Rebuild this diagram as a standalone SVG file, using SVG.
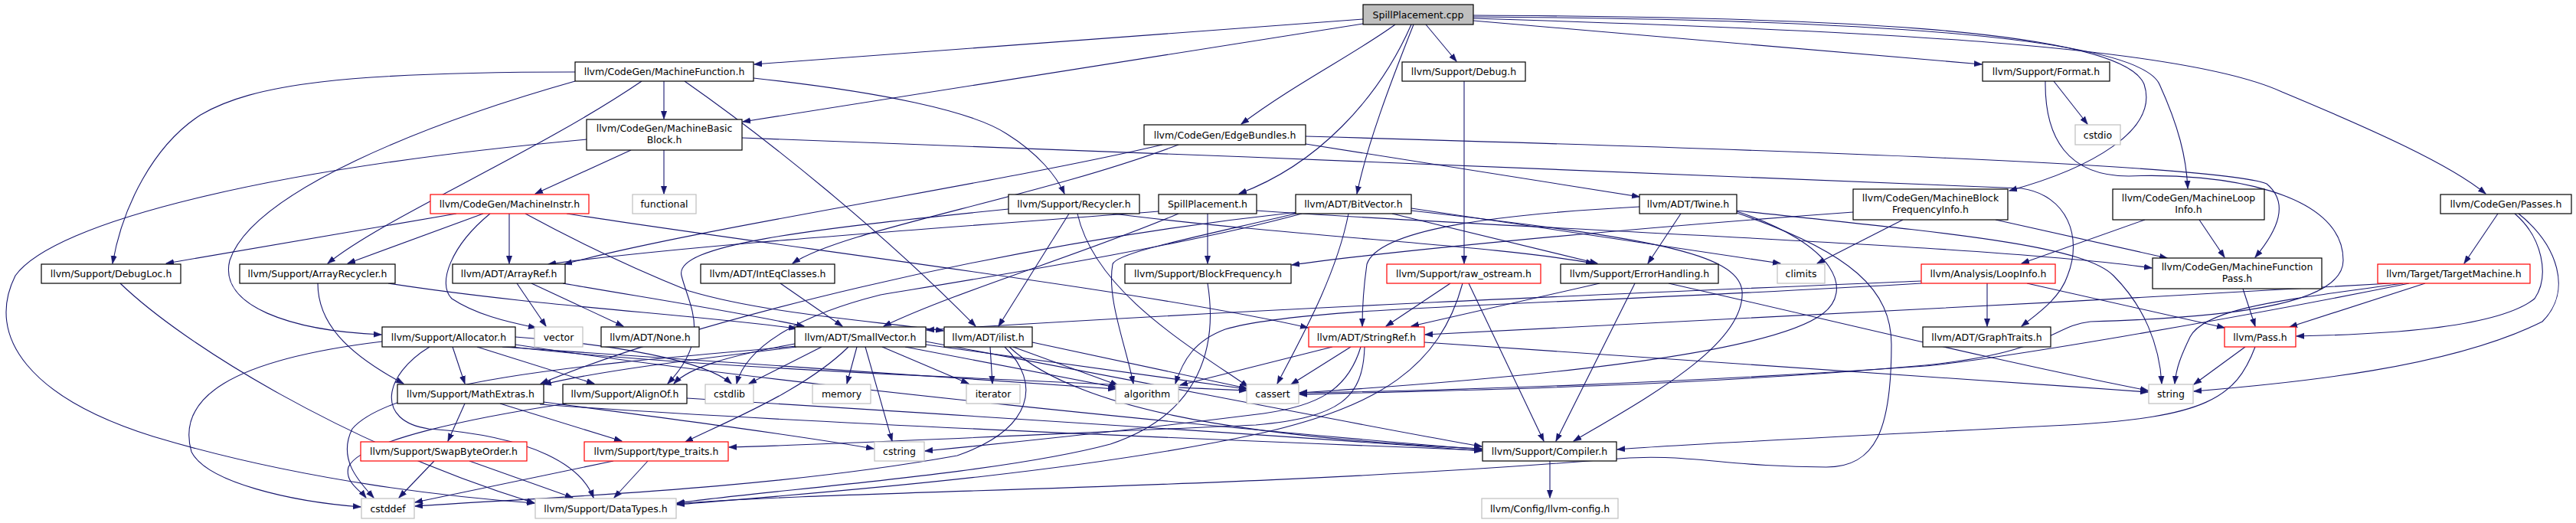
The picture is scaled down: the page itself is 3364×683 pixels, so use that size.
<svg xmlns="http://www.w3.org/2000/svg" width="3364" height="683" viewBox="0 0 3364 683">
<style>
rect{fill:#fff;stroke:#000;stroke-width:1.2}
.r rect{stroke:#ff0000}
.g rect{stroke:#bfbfbf}
.root rect{fill:#bfbfbf}
text{font-family:"DejaVu Sans","Liberation Sans",sans-serif;font-size:12.5px;fill:#000;text-anchor:middle}
#edges path{fill:none;stroke:#191970;stroke-width:1.1;marker-end:url(#a)}
</style>
<defs>
<marker id="a" markerWidth="11" markerHeight="9" refX="10" refY="4.5" orient="auto" markerUnits="userSpaceOnUse"><path d="M0,0.8 L10.5,4.5 L0,8.2 z" fill="#191970" stroke="#191970" stroke-width="0.5"/></marker>
</defs>
<rect x="0" y="0" width="3364" height="683" style="fill:#fff;stroke:none"/>
<g id="edges">
<path d="M1780,25 L985,84"/>
<path d="M1780,31 L970,159"/>
<path d="M1822,32 C1770,70 1690,110 1621,162"/>
<path d="M1843,32 C1800,130 1720,215 1618,253"/>
<path d="M1846,32 C1815,110 1785,190 1772,253"/>
<path d="M1862,32 L1902,80"/>
<path d="M1924,27 L2588,84"/>
<path d="M1924,20 C2350,22 2770,35 2800,110 C2820,170 2730,220 2624,249"/>
<path d="M1924,22 C2400,25 2790,45 2820,110 C2845,165 2855,205 2857,246"/>
<path d="M1924,24 C2450,40 2850,60 2980,120 C3100,170 3200,215 3246,253"/>
<path d="M867,106 L867,155"/>
<path d="M751,94 C450,94 330,110 262,150 C200,190 160,270 147,344"/>
<path d="M751,106 C560,160 330,250 300,340 C285,400 380,432 498,437"/>
<path d="M838,106 C700,200 500,285 428,344"/>
<path d="M984,102 C1150,120 1270,145 1315,175 C1355,200 1380,230 1390,253"/>
<path d="M894,106 C1000,180 1150,300 1274,426"/>
<path d="M824,196 L699,253"/>
<path d="M867,196 L867,253"/>
<path d="M766,182 C350,220 70,290 20,360 C-20,440 40,520 200,570 C400,630 600,650 698,657"/>
<path d="M969,180 C1500,200 2300,230 2640,246 C2700,255 2720,310 2700,360 C2690,390 2660,410 2640,426"/>
<path d="M1518,189 C1300,240 900,300 737,345"/>
<path d="M1539,189 C1350,260 1100,300 1035,344"/>
<path d="M1705,188 L2141,257"/>
<path d="M1705,178 C2300,195 2900,215 2960,240 C2990,265 2975,300 2945,336"/>
<path d="M1577,279 L1577,344"/>
<path d="M1539,279 C1420,330 1250,380 1154,426"/>
<path d="M1513,276 C1200,300 900,320 716,345"/>
<path d="M1641,275 C2000,300 2600,320 2810,350"/>
<path d="M1396,279 L1304,426"/>
<path d="M1407,279 C1430,380 1550,450 1630,505"/>
<path d="M1317,273 C1050,300 880,320 890,360 C900,400 930,440 872,501"/>
<path d="M1453,279 C1700,310 1950,320 2081,344"/>
<path d="M1692,279 C1560,310 1458,330 1453,345 C1445,390 1470,450 1480,501"/>
<path d="M1700,279 C1550,320 1300,360 1150,385 C1050,410 975,450 962,501"/>
<path d="M1818,279 L2086,344"/>
<path d="M1843,272 L2325,344"/>
<path d="M1843,275 C2150,310 2270,330 2275,380 C2280,450 2150,520 2055,576"/>
<path d="M1761,279 C1745,360 1700,440 1668,501"/>
<path d="M1695,277 C1300,320 900,420 706,501"/>
<path d="M2141,270 C1950,280 1800,300 1785,345 C1780,380 1779,400 1779,426"/>
<path d="M2195,279 L2152,344"/>
<path d="M2268,275 C2550,305 2720,320 2760,360 C2800,400 2820,450 2823,501"/>
<path d="M2268,278 C2420,330 2470,380 2470,450 C2470,560 2450,610 2385,610 C2250,610 2200,590 2100,600 C1600,640 1100,640 884,658"/>
<path d="M2268,276 C2400,320 2420,380 2380,410 C2300,470 1900,500 1697,513"/>
<path d="M1912,106 L1912,344"/>
<path d="M2682,106 L2726,162"/>
<path d="M2671,106 C2670,180 2700,230 2780,230 C2900,225 3060,250 3060,340 C3060,400 2900,415 2730,420 C2680,425 2680,460 2514,477 C2200,505 1900,510 1697,515"/>
<path d="M2420,277 C2100,300 1800,330 1687,346"/>
<path d="M2485,287 L2373,344"/>
<path d="M2606,287 L2830,337"/>
<path d="M2801,287 L2640,344"/>
<path d="M2872,287 L2905,336"/>
<path d="M3262,279 L3218,344"/>
<path d="M3284,279 C3320,310 3330,360 3310,390 C3260,430 3100,437 2999,439"/>
<path d="M3289,279 C3340,320 3360,380 3320,420 C3200,480 3000,500 2865,511"/>
<path d="M596,279 L217,344"/>
<path d="M631,279 L454,344"/>
<path d="M640,279 C590,320 570,370 590,390 C620,410 660,420 700,428"/>
<path d="M665,279 L665,344"/>
<path d="M686,279 C780,330 850,360 900,380 C1000,410 1150,420 1232,432"/>
<path d="M740,279 C1000,320 1500,380 1708,428"/>
<path d="M157,370 C240,450 450,580 698,657"/>
<path d="M415,370 C415,420 450,460 527,501"/>
<path d="M507,370 C700,400 900,410 1040,429"/>
<path d="M675,370 L713,426"/>
<path d="M694,370 L814,426"/>
<path d="M735,370 C850,390 950,405 1050,426"/>
<path d="M1019,370 L1100,426"/>
<path d="M1577,370 C1590,450 1570,540 1450,580 C1300,620 1000,640 884,657"/>
<path d="M1894,370 L1810,426"/>
<path d="M1918,370 L2016,576"/>
<path d="M1910,370 C1880,480 1800,530 1650,565 C1400,620 1050,645 884,659"/>
<path d="M2089,370 L1843,426"/>
<path d="M2135,370 L2032,576"/>
<path d="M2179,370 C2400,420 2600,470 2805,510"/>
<path d="M2595,370 L2595,426"/>
<path d="M2647,370 L2905,428"/>
<path d="M2509,367 C2200,380 1700,400 1210,431"/>
<path d="M2509,370 C2000,400 1700,400 1600,430 C1560,445 1545,470 1535,501"/>
<path d="M2929,377 L2945,426"/>
<path d="M3167,370 L2990,427"/>
<path d="M3122,370 C2700,395 2200,420 1861,437"/>
<path d="M3146,370 C2900,420 2600,470 2514,478 C2200,500 1900,510 1697,513"/>
<path d="M3138,370 C3000,390 2880,400 2860,440 C2848,465 2842,480 2840,501"/>
<path d="M499,446 C300,470 230,520 250,590 C270,630 380,655 471,662"/>
<path d="M561,453 C500,490 490,550 560,560 C700,570 760,610 775,650"/>
<path d="M591,453 L607,501"/>
<path d="M623,453 L776,501"/>
<path d="M656,453 C900,470 1200,490 1457,508"/>
<path d="M668,453 C900,480 1300,495 1628,510"/>
<path d="M673,440 C800,450 920,470 955,501"/>
<path d="M673,450 C1000,500 1600,560 1935,587"/>
<path d="M1038,449 C950,465 900,480 880,501"/>
<path d="M1040,453 C900,470 780,485 710,502"/>
<path d="M1073,453 L978,501"/>
<path d="M1119,453 L1106,501"/>
<path d="M1152,453 L1265,501"/>
<path d="M1182,453 L1458,506"/>
<path d="M1209,450 L1628,508"/>
<path d="M1130,453 L1165,576"/>
<path d="M1108,453 C1050,510 950,550 895,577"/>
<path d="M1040,452 C850,470 520,490 460,560 C440,600 470,630 488,650"/>
<path d="M1209,446 C1500,500 1800,560 1935,583"/>
<path d="M1293,453 L1296,501"/>
<path d="M1323,453 L1460,503"/>
<path d="M1348,447 L1628,507"/>
<path d="M1312,453 C1360,500 1350,560 1250,595 C1000,640 700,650 542,661"/>
<path d="M1318,453 C1400,530 1600,570 1935,586"/>
<path d="M1740,453 L1541,503"/>
<path d="M1764,453 L1686,502"/>
<path d="M1777,453 C1760,510 1720,530 1650,540 C1450,565 1300,580 1208,589"/>
<path d="M1782,453 C1780,520 1750,545 1640,555 C1300,570 1100,580 952,584"/>
<path d="M1860,447 C2200,470 2500,490 2805,512"/>
<path d="M2932,453 L2865,502"/>
<path d="M2945,453 C2920,520 2880,545 2700,555 C2400,570 2200,580 2112,587"/>
<path d="M607,527 L585,576"/>
<path d="M653,527 L812,576"/>
<path d="M705,528 C1000,550 1600,575 1935,588"/>
<path d="M710,525 C900,550 1050,570 1141,586"/>
<path d="M897,520 C1300,545 1700,570 1935,589"/>
<path d="M740,527 C620,545 470,575 455,610 C450,630 470,640 478,650"/>
<path d="M567,602 L521,650"/>
<path d="M613,602 L748,650"/>
<path d="M801,602 L542,656"/>
<path d="M846,602 L802,650"/>
<path d="M2024,602 L2024,650"/>
</g>
<g id="n_root" class="root"><rect x="1780" y="6" width="144" height="26"/><text x="1852" y="24">SpillPlacement.cpp</text></g>
<g id="n_mf"><rect x="751" y="81" width="233" height="25"/><text x="867.5" y="98">llvm/CodeGen/MachineFunction.h</text></g>
<g id="n_debug"><rect x="1831" y="81" width="161" height="25"/><text x="1911.5" y="98">llvm/Support/Debug.h</text></g>
<g id="n_format"><rect x="2589" y="81" width="166" height="25"/><text x="2672" y="98">llvm/Support/Format.h</text></g>
<g id="n_mbb"><rect x="766" y="156" width="203" height="40"/><text x="867.5" y="172">llvm/CodeGen/MachineBasic</text><text x="867.5" y="187">Block.h</text></g>
<g id="n_eb"><rect x="1494" y="163" width="211" height="26"/><text x="1599.5" y="181">llvm/CodeGen/EdgeBundles.h</text></g>
<g id="n_cstdio" class="g"><rect x="2710" y="163" width="59" height="26"/><text x="2739.5" y="181">cstdio</text></g>
<g id="n_mi" class="r"><rect x="562" y="254" width="207" height="25"/><text x="665.5" y="271">llvm/CodeGen/MachineInstr.h</text></g>
<g id="n_functional" class="g"><rect x="826" y="254" width="83" height="25"/><text x="867.5" y="271">functional</text></g>
<g id="n_recycler"><rect x="1317" y="254" width="171" height="25"/><text x="1402.5" y="271">llvm/Support/Recycler.h</text></g>
<g id="n_sph"><rect x="1513" y="254" width="128" height="25"/><text x="1577" y="271">SpillPlacement.h</text></g>
<g id="n_bv"><rect x="1692" y="254" width="151" height="25"/><text x="1767.5" y="271">llvm/ADT/BitVector.h</text></g>
<g id="n_twine"><rect x="2141" y="254" width="127" height="25"/><text x="2204.5" y="271">llvm/ADT/Twine.h</text></g>
<g id="n_mbfi"><rect x="2420" y="247" width="202" height="40"/><text x="2521" y="263">llvm/CodeGen/MachineBlock</text><text x="2521" y="278">FrequencyInfo.h</text></g>
<g id="n_mli"><rect x="2759" y="247" width="198" height="40"/><text x="2858" y="263">llvm/CodeGen/MachineLoop</text><text x="2858" y="278">Info.h</text></g>
<g id="n_passes"><rect x="3187" y="254" width="171" height="25"/><text x="3272.5" y="271">llvm/CodeGen/Passes.h</text></g>
<g id="n_debugloc"><rect x="54" y="345" width="182" height="25"/><text x="145" y="362">llvm/Support/DebugLoc.h</text></g>
<g id="n_arrayrecycler"><rect x="313" y="345" width="203" height="25"/><text x="414.5" y="362">llvm/Support/ArrayRecycler.h</text></g>
<g id="n_arrayref"><rect x="591" y="345" width="147" height="25"/><text x="664.5" y="362">llvm/ADT/ArrayRef.h</text></g>
<g id="n_inteq"><rect x="915" y="345" width="175" height="25"/><text x="1002.5" y="362">llvm/ADT/IntEqClasses.h</text></g>
<g id="n_blockfreq"><rect x="1469" y="345" width="217" height="25"/><text x="1577.5" y="362">llvm/Support/BlockFrequency.h</text></g>
<g id="n_raw" class="r"><rect x="1811" y="345" width="201" height="25"/><text x="1911.5" y="362">llvm/Support/raw_ostream.h</text></g>
<g id="n_eh"><rect x="2038" y="345" width="206" height="25"/><text x="2141" y="362">llvm/Support/ErrorHandling.h</text></g>
<g id="n_climits" class="g"><rect x="2321" y="345" width="62" height="25"/><text x="2352" y="362">climits</text></g>
<g id="n_loopinfo" class="r"><rect x="2509" y="345" width="175" height="25"/><text x="2596.5" y="362">llvm/Analysis/LoopInfo.h</text></g>
<g id="n_mfp"><rect x="2811" y="337" width="221" height="40"/><text x="2921.5" y="353">llvm/CodeGen/MachineFunction</text><text x="2921.5" y="368">Pass.h</text></g>
<g id="n_tm" class="r"><rect x="3105" y="345" width="199" height="25"/><text x="3204.5" y="362">llvm/Target/TargetMachine.h</text></g>
<g id="n_alloc"><rect x="499" y="427" width="174" height="26"/><text x="586" y="445">llvm/Support/Allocator.h</text></g>
<g id="n_vector" class="g"><rect x="698" y="427" width="63" height="26"/><text x="729.5" y="445">vector</text></g>
<g id="n_none"><rect x="785" y="427" width="128" height="26"/><text x="849" y="445">llvm/ADT/None.h</text></g>
<g id="n_sv"><rect x="1038" y="427" width="171" height="26"/><text x="1123.5" y="445">llvm/ADT/SmallVector.h</text></g>
<g id="n_ilist"><rect x="1233" y="427" width="115" height="26"/><text x="1290.5" y="445">llvm/ADT/ilist.h</text></g>
<g id="n_stringref" class="r"><rect x="1709" y="427" width="151" height="26"/><text x="1784.5" y="445">llvm/ADT/StringRef.h</text></g>
<g id="n_graphtraits"><rect x="2511" y="427" width="167" height="26"/><text x="2594.5" y="445">llvm/ADT/GraphTraits.h</text></g>
<g id="n_pass" class="r"><rect x="2905" y="427" width="93" height="26"/><text x="2951.5" y="445">llvm/Pass.h</text></g>
<g id="n_mathextras"><rect x="519" y="502" width="191" height="25"/><text x="614.5" y="519">llvm/Support/MathExtras.h</text></g>
<g id="n_alignof"><rect x="735" y="502" width="162" height="25"/><text x="816" y="519">llvm/Support/AlignOf.h</text></g>
<g id="n_cstdlib" class="g"><rect x="921" y="502" width="63" height="25"/><text x="952.5" y="519">cstdlib</text></g>
<g id="n_memory" class="g"><rect x="1061" y="502" width="76" height="25"/><text x="1099" y="519">memory</text></g>
<g id="n_iterator" class="g"><rect x="1262" y="502" width="70" height="25"/><text x="1297" y="519">iterator</text></g>
<g id="n_algorithm" class="g"><rect x="1457" y="502" width="82" height="25"/><text x="1498" y="519">algorithm</text></g>
<g id="n_cassert" class="g"><rect x="1628" y="502" width="68" height="25"/><text x="1662" y="519">cassert</text></g>
<g id="n_string" class="g"><rect x="2806" y="502" width="58" height="25"/><text x="2835" y="519">string</text></g>
<g id="n_swap" class="r"><rect x="471" y="577" width="217" height="25"/><text x="579.5" y="594">llvm/Support/SwapByteOrder.h</text></g>
<g id="n_typetraits" class="r"><rect x="763" y="577" width="188" height="25"/><text x="857" y="594">llvm/Support/type_traits.h</text></g>
<g id="n_cstring" class="g"><rect x="1142" y="577" width="65" height="25"/><text x="1174.5" y="594">cstring</text></g>
<g id="n_compiler"><rect x="1936" y="577" width="175" height="25"/><text x="2023.5" y="594">llvm/Support/Compiler.h</text></g>
<g id="n_cstddef" class="g"><rect x="472" y="651" width="69" height="26"/><text x="506.5" y="669">cstddef</text></g>
<g id="n_datatypes" class="g"><rect x="699" y="651" width="184" height="26"/><text x="791" y="669">llvm/Support/DataTypes.h</text></g>
<g id="n_config" class="g"><rect x="1935" y="651" width="178" height="26"/><text x="2024" y="669">llvm/Config/llvm-config.h</text></g>
</svg>
